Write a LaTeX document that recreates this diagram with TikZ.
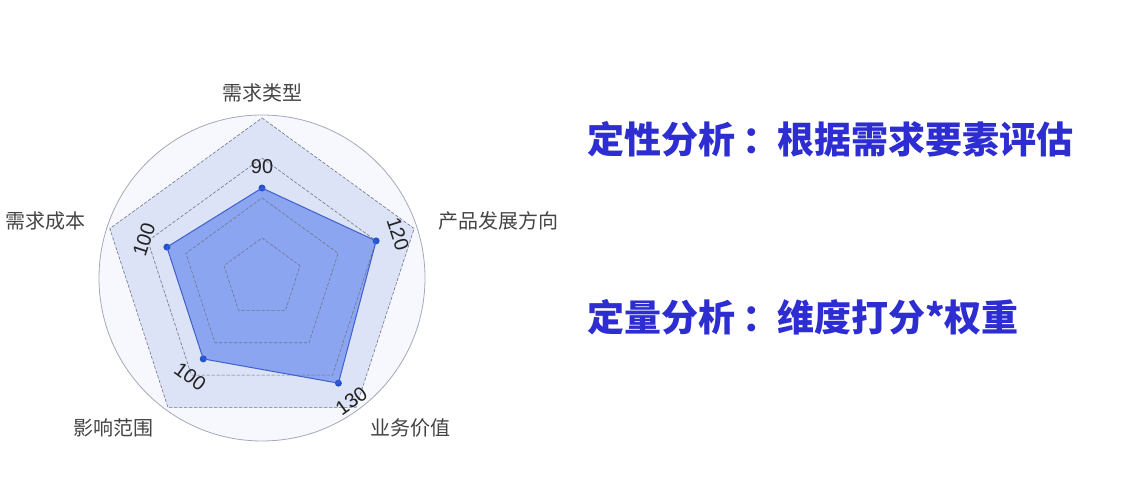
\documentclass[tikz,border=0pt]{standalone}
\usepackage{fontspec}
\setmainfont{Liberation Sans}
\newfontfamily\cjk{Noto Sans CJK SC}
\usepackage{tikz}

\definecolor{outerfill}{HTML}{DDE3F7}
\definecolor{circlefill}{HTML}{F6F8FD}
\definecolor{circlegray}{HTML}{A3A9B8}
\definecolor{ringgray}{HTML}{6F7587}
\definecolor{datafill}{HTML}{8CA5F1}
\definecolor{dataline}{HTML}{3F5FCB}
\definecolor{dotblue}{HTML}{2352D0}
\definecolor{labelgray}{HTML}{444444}
\definecolor{scoregray}{HTML}{222222}
\definecolor{titleblue}{HTML}{2D2DD2}

\newcommand{\gapcolon}{\hspace{7pt}：\hspace{-2pt}}

\begin{document}
\begin{tikzpicture}[line cap=round,line join=round,x=1pt,y=1pt,
    ring/.style={densely dashed, draw=ringgray, line width=0.6pt},
    axislabel/.style={font=\cjk\fontsize{20}{20}\selectfont, text=labelgray, inner sep=0pt},
    score/.style={font=\fontsize{20}{20}\selectfont, text=scoregray, inner sep=0pt},
    dot/.style={circle, fill=dotblue, inner sep=0pt, minimum size=7pt},
    headline/.style={font=\cjk\bfseries\fontsize{37}{37}\selectfont, text=titleblue, anchor=west, inner sep=0pt}]
    \useasboundingbox (0,0) rectangle (1135,481);

    \coordinate (O) at (262,203);

    \begin{scope}[shift={(O)}]
        % frame and grid
        \draw[circlegray, fill=circlefill, line width=0.8pt] (0,0) circle (163);
        \fill[outerfill] (90:160) -- (18:160) -- (-54:160) -- (-126:160) -- (162:160) -- cycle;

        \coordinate (d1) at (90:90);
        \coordinate (d2) at (18:120);
        \coordinate (d3) at (-54:130);
        \coordinate (d4) at (-126:100);
        \coordinate (d5) at (162:100);
        \fill[datafill] (d1) -- (d2) -- (d3) -- (d4) -- (d5) -- cycle;

        \foreach \r in {40,80,120,160}
            \draw[ring] (90:\r) -- (18:\r) -- (-54:\r) -- (-126:\r) -- (162:\r) -- cycle;

        % scores
        \node[dot] (p1) at (d1) {};
        \node[dot] (p2) at (d2) {};
        \node[dot] (p3) at (d3) {};
        \node[dot] (p4) at (d4) {};
        \node[dot] (p5) at (d5) {};
        \draw[dataline, line width=1pt] (p1.center) -- (p2.center) -- (p3.center) -- (p4.center) -- (p5.center) -- cycle;

        \node[score] (s1) at (90:111) {90};
        \node[score, rotate=-72] (s2) at (18:143) {120};
        \node[score, rotate=36] (s3) at (-54:152) {130};
        \node[score, rotate=-36] (s4) at (-126:122) {100};
        \node[score, rotate=72] (s5) at (162:124) {100};

        % dimensions
        \node[axislabel] (a1) at (90:185) {需求类型};
        \node[axislabel, anchor=west] (a2) at (18:185) {产品发展方向};
        \node[axislabel, anchor=west] (a3) at (-54:185) {业务价值};
        \node[axislabel, anchor=east] (a4) at (-126:185) {影响范围};
        \node[axislabel, anchor=east] (a5) at (162:185) {需求成本};
    \end{scope}

    \node[headline] (qual) at (587,342) {定性分析\gapcolon 根据需求要素评估};
    \node[headline] (quant) at (587,164) {定量分析\gapcolon 维度打分*权重};
\end{tikzpicture}
\end{document}
